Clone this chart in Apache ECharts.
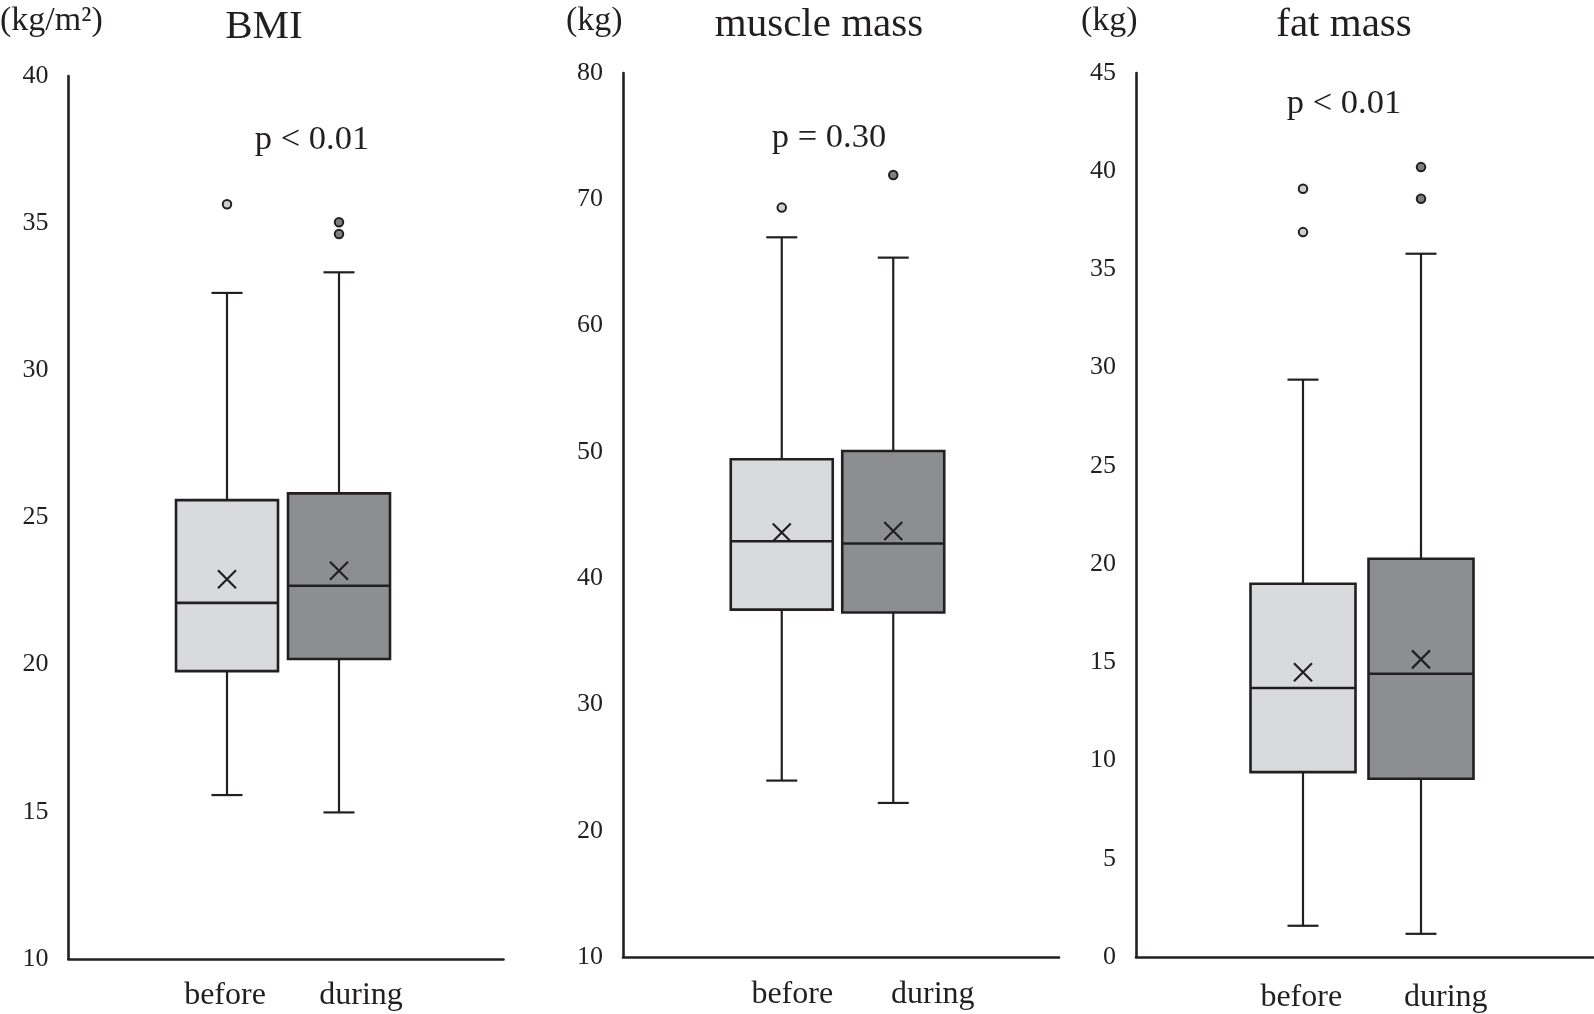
<!DOCTYPE html>
<html>
<head>
<meta charset="utf-8">
<script src="https://cdn.jsdelivr.net/npm/echarts@6/dist/echarts.min.js"></script>
<style>
html,body{margin:0;padding:0;background:#fff;}
#chart{width:1594px;height:1014px;}
</style>
</head>
<body>
<div id="chart"></div>
<script>
// ---------- data ----------
const categories = ['before', 'during'];
const panelTitles = ['BMI', 'muscle mass', 'fat mass'];
const unitLabels = ['(kg/m\u00B2)', '(kg)', '(kg)'];
const pLabels = ['p < 0.01', 'p = 0.30', 'p < 0.01'];

// [min whisker, Q1, median, Q3, max whisker] per category
const bmiStats = [[15.57, 19.78, 22.10, 25.59, 32.63], [14.98, 20.19, 22.68, 25.82, 33.33]];
const bmiMeans = [22.90, 23.19];
const bmiOutliers = [[35.64], [35.03, 34.63]];
const bmiTicks = [10, 15, 20, 25, 30, 35, 40];

const muscleStats = [[23.97, 37.51, 42.92, 49.41, 66.99], [22.20, 37.28, 42.74, 50.07, 65.38]];
const muscleMeans = [43.61, 43.74];
const muscleOutliers = [[69.34], [71.92]];
const muscleTicks = [10, 20, 30, 40, 50, 60, 70, 80];

const fatStats = [[1.59, 9.41, 13.69, 19.00, 29.39], [1.18, 9.07, 14.42, 20.27, 35.80]];
const fatMeans = [14.50, 15.15];
const fatOutliers = [[39.11, 36.90], [40.21, 38.60]];
const fatTicks = [0, 5, 10, 15, 20, 25, 30, 35, 40, 45];

// ---------- styles / layout ----------
const INK = '#231f20';
const FONT = '"Liberation Serif", "Times New Roman", serif';
const fills = ['#d9dadc', '#8d8e92'];
const outlierFills = ['#cfd0d2', '#7d7e82'];

const layouts = [
  { frame: { left: 68.5, width: 435, top: 76, height: 883 }, data: { left: 171, width: 224 }, label: { left: 157, width: 272 },
    boxW: 102, labelMargin: 21, title: [264, 27], unit: [0, 21], p: [312, 140] },
  { frame: { left: 623, width: 436, top: 73, height: 884 }, data: { left: 726, width: 223 }, label: { left: 722, width: 281 },
    boxW: 102, labelMargin: 22, title: [819, 25], unit: [566, 21], p: [829, 138] },
  { frame: { left: 1136, width: 470, top: 73, height: 884 }, data: { left: 1244, width: 236 }, label: { left: 1229, width: 289 },
    boxW: 105, labelMargin: 26, title: [1344, 25], unit: [1081, 21], p: [1344, 104] }
];

const panels = [
  { stats: bmiStats, means: bmiMeans, outliers: bmiOutliers, ticks: bmiTicks },
  { stats: muscleStats, means: muscleMeans, outliers: muscleOutliers, ticks: muscleTicks },
  { stats: fatStats, means: fatMeans, outliers: fatOutliers, ticks: fatTicks }
];

function makeRenderBox(bw) {
  return function (params, api) {
    const c = api.value(0);
    const lo = api.coord([c, api.value(1)]);
    const q1 = api.coord([c, api.value(2)]);
    const md = api.coord([c, api.value(3)]);
    const q3 = api.coord([c, api.value(4)]);
    const hi = api.coord([c, api.value(5)]);
    const cw = 31;
    const x = lo[0];
    const lineStyle = { stroke: INK, lineWidth: 2.2, fill: null };
    return {
      type: 'group',
      children: [
        { type: 'line', shape: { x1: x, y1: hi[1], x2: x, y2: q3[1] }, style: lineStyle },
        { type: 'line', shape: { x1: x, y1: q1[1], x2: x, y2: lo[1] }, style: lineStyle },
        { type: 'line', shape: { x1: x - cw / 2, y1: hi[1], x2: x + cw / 2, y2: hi[1] }, style: lineStyle },
        { type: 'line', shape: { x1: x - cw / 2, y1: lo[1], x2: x + cw / 2, y2: lo[1] }, style: lineStyle },
        { type: 'rect', shape: { x: x - bw / 2, y: q3[1], width: bw, height: q1[1] - q3[1] },
          style: { fill: fills[c], stroke: INK, lineWidth: 2.6 } },
        { type: 'line', shape: { x1: x - bw / 2, y1: md[1], x2: x + bw / 2, y2: md[1] },
          style: { stroke: INK, lineWidth: 2.6 } }
      ]
    };
  };
}

const grid = [], xAxis = [], yAxis = [], series = [], graphic = [];

panels.forEach((p, i) => {
  const L = layouts[i];
  const yMin = p.ticks[0], yMax = p.ticks[p.ticks.length - 1], yInt = p.ticks[1] - p.ticks[0];
  const g0 = grid.length;
  grid.push({ left: L.frame.left, width: L.frame.width, top: L.frame.top, height: L.frame.height });
  grid.push({ left: L.data.left, width: L.data.width, top: L.frame.top, height: L.frame.height });
  grid.push({ left: L.label.left, width: L.label.width, top: L.frame.top, height: L.frame.height });

  // frame axes
  xAxis.push({ type: 'value', gridIndex: g0, min: 0, max: 1, axisLine: { show: true, onZero: false, lineStyle: { color: INK, width: 2.6 } },
    axisTick: { show: false }, axisLabel: { show: false }, splitLine: { show: false } });
  yAxis.push({ type: 'value', gridIndex: g0, min: yMin, max: yMax, interval: yInt,
    axisLine: { show: true, lineStyle: { color: INK, width: 2.6 } }, axisTick: { show: false }, splitLine: { show: false },
    axisLabel: { color: INK, fontFamily: FONT, fontSize: 26, margin: 20 } });
  // data axes
  xAxis.push({ type: 'category', gridIndex: g0 + 1, data: categories, boundaryGap: true,
    axisLine: { show: false }, axisTick: { show: false }, axisLabel: { show: false }, splitLine: { show: false } });
  yAxis.push({ type: 'value', gridIndex: g0 + 1, min: yMin, max: yMax, interval: yInt, show: false });
  // label axes
  xAxis.push({ type: 'category', gridIndex: g0 + 2, data: categories, boundaryGap: true,
    axisLine: { show: false }, axisTick: { show: false }, splitLine: { show: false },
    axisLabel: { color: INK, fontFamily: FONT, fontSize: 32, margin: L.labelMargin } });
  yAxis.push({ type: 'value', gridIndex: g0 + 2, min: yMin, max: yMax, show: false });

  series.push({
    type: 'custom', xAxisIndex: g0 + 1, yAxisIndex: g0 + 1, renderItem: makeRenderBox(L.boxW),
    encode: { x: 0, y: [1, 2, 3, 4, 5] }, silent: true,
    data: p.stats.map((s, c) => [c].concat(s))
  });
  const outData = [];
  p.outliers.forEach((arr, c) => arr.forEach(v => outData.push({ value: [c, v], itemStyle: { color: outlierFills[c] } })));
  series.push({
    type: 'scatter', xAxisIndex: g0 + 1, yAxisIndex: g0 + 1, symbol: 'circle', symbolSize: 8.5, silent: true,
    itemStyle: { borderColor: INK, borderWidth: 2, opacity: 1 }, data: outData, z: 5
  });
  series.push({
    type: 'scatter', xAxisIndex: g0 + 1, yAxisIndex: g0 + 1, symbol: 'path://M0,0L10,10M10,0L0,10', symbolSize: 18, silent: true,
    itemStyle: { color: 'rgba(0,0,0,0)', borderColor: INK, borderWidth: 2.2, opacity: 1 },
    data: p.means.map((m, c) => [c, m]), z: 6
  });

  graphic.push({ type: 'text', x: L.title[0], y: L.title[1], style: { text: panelTitles[i], font: '41px ' + FONT, fill: INK, textAlign: 'center', textVerticalAlign: 'middle' } });
  graphic.push({ type: 'text', x: L.unit[0], y: L.unit[1], style: { text: unitLabels[i], font: '34px ' + FONT, fill: INK, textAlign: 'left', textVerticalAlign: 'middle' } });
  graphic.push({ type: 'text', x: L.p[0], y: L.p[1], style: { text: pLabels[i], font: '34.5px ' + FONT, fill: INK, textAlign: 'center', textVerticalAlign: 'middle' } });
});

const chart = echarts.init(document.getElementById('chart'), null, { renderer: 'canvas' });
chart.setOption({
  animation: false,
  backgroundColor: '#ffffff',
  grid, xAxis, yAxis, series, graphic
});
</script>
</body>
</html>
